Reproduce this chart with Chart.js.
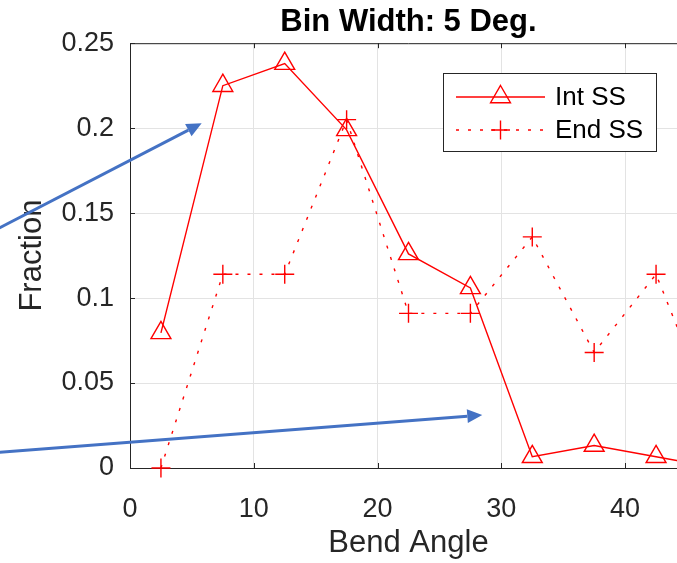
<!DOCTYPE html>
<html lang="en">
<head>
    <meta charset="UTF-8">
    <title>Bend Angle</title>
    <style>
        html, body { margin: 0; padding: 0; background: #fff; overflow: hidden; }
        #wrap { width: 700px; height: 563px; }
    </style>
</head>
<body>

    <div id="wrap">
        <canvas id="myChart" width="700" height="563"></canvas>
    </div>

    <script src="https://cdn.jsdelivr.net/npm/chart.js"></script>

    <script>
        // bin centres (deg) and the fraction in each bin
        const binCenters = [2.5, 7.5, 12.5, 17.5, 22.5, 27.5, 32.5, 37.5, 42.5, 47.5];
        const intSS = [0.0795, 0.225, 0.238, 0.199, 0.126, 0.106, 0.0066, 0.0132, 0.0066, 0];
        const endSS = [0, 0.114, 0.114, 0.205, 0.091, 0.091, 0.136, 0.068, 0.114, 0.023];

        const xTicks = [0, 10, 20, 30, 40];
        const xTickLabels = ['0', '10', '20', '30', '40'];
        const yTicks = [0, 0.05, 0.1, 0.15, 0.2, 0.25];
        const yTickLabels = ['0', '0.05', '0.1', '0.15', '0.2', '0.25'];

        // blue annotation arrows, in data units [x, y]
        const arrowStarts = [[-12, 0.1358], [-12, 0.0084]];
        const arrowEnds = [[5.79, 0.2029], [28.46, 0.0312]];

        const FONT = '"Liberation Sans", Arial, Helvetica, sans-serif';
        const ctx = document.getElementById('myChart');

        function drawMarker(c, style, r, x, y) {
            c.beginPath();
            if (style === 'triangle') {
                c.moveTo(x, y - r);
                c.lineTo(x + r * Math.sin(Math.PI / 3), y + r / 2);
                c.lineTo(x - r * Math.sin(Math.PI / 3), y + r / 2);
                c.closePath();
            } else {
                c.moveTo(x - r, y); c.lineTo(x + r, y);
                c.moveTo(x, y - r); c.lineTo(x, y + r);
            }
            c.stroke();
        }

        const framePlugin = {
            id: 'frame',
            afterDraw(chart) {
                const c = chart.ctx;
                const a = chart.chartArea;
                const xs = chart.scales.x, ys = chart.scales.y;
                c.save();

                // box + inward ticks like matlab
                c.strokeStyle = '#262626';
                c.lineWidth = 1;
                c.setLineDash([]);
                c.beginPath();
                c.moveTo(a.left, a.top + 0.5); c.lineTo(a.right, a.top + 0.5);
                c.moveTo(a.right - 0.5, a.top); c.lineTo(a.right - 0.5, a.bottom);
                xTicks.forEach(v => {
                    const px = Math.round(xs.getPixelForValue(v)) + 0.5;
                    c.moveTo(px, a.bottom); c.lineTo(px, a.bottom - 5);
                    c.moveTo(px, a.top); c.lineTo(px, a.top + 5);
                });
                yTicks.forEach(v => {
                    const py = Math.round(ys.getPixelForValue(v)) + 0.5;
                    c.moveTo(a.left, py); c.lineTo(a.left + 5, py);
                    c.moveTo(a.right, py); c.lineTo(a.right - 5, py);
                });
                c.stroke();

                // legend
                const lx = 443.5, ly = 73.5, lw = 213, lh = 78;
                c.fillStyle = '#fff';
                c.fillRect(lx, ly, lw, lh);
                c.strokeRect(lx, ly, lw, lh);
                const rowsY = [97, 130];
                chart.data.datasets.forEach((ds, i) => {
                    const y = rowsY[i];
                    c.strokeStyle = ds.borderColor;
                    c.lineWidth = ds.borderWidth;
                    c.setLineDash(ds.borderDash || []);
                    c.beginPath();
                    c.moveTo(456, y); c.lineTo(545, y);
                    c.stroke();
                    c.setLineDash([]);
                    c.lineWidth = ds.pointBorderWidth;
                    drawMarker(c, ds.pointStyle, ds.pointRadius, 500.5, y);
                    c.fillStyle = '#000';
                    c.font = '26px ' + FONT;
                    c.textAlign = 'left';
                    c.textBaseline = 'middle';
                    c.fillText(ds.label, 555, y + 1);
                });

                // arrows
                c.strokeStyle = '#4472C4';
                c.fillStyle = '#4472C4';
                c.lineWidth = 3;
                arrowStarts.forEach((s, i) => {
                    const x0 = xs.getPixelForValue(s[0]), y0 = ys.getPixelForValue(s[1]);
                    const x1 = xs.getPixelForValue(arrowEnds[i][0]), y1 = ys.getPixelForValue(arrowEnds[i][1]);
                    const ang = Math.atan2(y1 - y0, x1 - x0);
                    const len = 15, half = 7;
                    const bx = x1 - len * Math.cos(ang), by = y1 - len * Math.sin(ang);
                    c.beginPath();
                    c.moveTo(x0, y0); c.lineTo(bx, by);
                    c.stroke();
                    c.beginPath();
                    c.moveTo(x1, y1);
                    c.lineTo(bx + half * Math.sin(ang), by - half * Math.cos(ang));
                    c.lineTo(bx - half * Math.sin(ang), by + half * Math.cos(ang));
                    c.closePath();
                    c.fill();
                });
                c.restore();
            }
        };

        let bendChart = new Chart(ctx, {
            type: 'line',
            data: {
                datasets: [{
                    label: 'Int SS',
                    data: binCenters.map((x, i) => ({ x: x, y: intSS[i] })),
                    borderColor: '#ff0000',
                    borderWidth: 1.4,
                    pointStyle: 'triangle',
                    pointRadius: 11.5,
                    pointBorderColor: '#ff0000',
                    pointBackgroundColor: 'rgba(0,0,0,0)',
                    pointBorderWidth: 1.4,
                    tension: 0,
                    clip: false
                }, {
                    label: 'End SS',
                    data: binCenters.map((x, i) => ({ x: x, y: endSS[i] })),
                    borderColor: '#ff0000',
                    borderWidth: 1.4,
                    borderDash: [3, 9],
                    pointStyle: 'cross',
                    pointRadius: 9.5,
                    pointBorderColor: '#ff0000',
                    pointBackgroundColor: 'rgba(0,0,0,0)',
                    pointBorderWidth: 1.4,
                    tension: 0,
                    clip: false
                }]
            },
            options: {
                responsive: false,
                devicePixelRatio: 1,
                animation: false,
                layout: { padding: { right: 13 } },
                plugins: {
                    legend: { display: false },
                    tooltip: { enabled: false },
                    title: {
                        display: true,
                        text: 'Bin Width: 5 Deg.',
                        fullSize: false,
                        color: '#000',
                        font: { family: FONT, size: 31, weight: 'bold' },
                        padding: { top: 4, bottom: 2 }
                    }
                },
                scales: {
                    x: {
                        type: 'linear',
                        min: 0,
                        max: 45,
                        afterBuildTicks: s => { s.ticks = xTicks.map(v => ({ value: v })); },
                        afterFit: s => { s.height = 95; },
                        ticks: {
                            color: '#262626',
                            font: { family: FONT, size: 27 },
                            padding: 25,
                            maxRotation: 0,
                            callback: (v, i) => xTickLabels[i]
                        },
                        grid: { color: '#e3e3e3', drawTicks: false },
                        border: { color: '#262626', width: 1 },
                        title: {
                            display: true,
                            text: 'Bend Angle',
                            color: '#262626',
                            font: { family: FONT, size: 31 },
                            padding: { top: 0, bottom: 1 }
                        }
                    },
                    y: {
                        min: 0,
                        max: 0.25,
                        afterBuildTicks: s => { s.ticks = yTicks.map(v => ({ value: v })); },
                        afterFit: s => { s.width = 130; },
                        ticks: {
                            color: '#262626',
                            font: { family: FONT, size: 27 },
                            padding: 16,
                            callback: (v, i) => yTickLabels[i]
                        },
                        grid: { color: '#e3e3e3', drawTicks: false },
                        border: { color: '#262626', width: 1 },
                        title: {
                            display: true,
                            text: 'Fraction',
                            color: '#262626',
                            font: { family: FONT, size: 31 },
                            padding: { top: 14, bottom: 0 }
                        }
                    }
                }
            },
            plugins: [framePlugin]
        });
    </script>
</body>
</html>
